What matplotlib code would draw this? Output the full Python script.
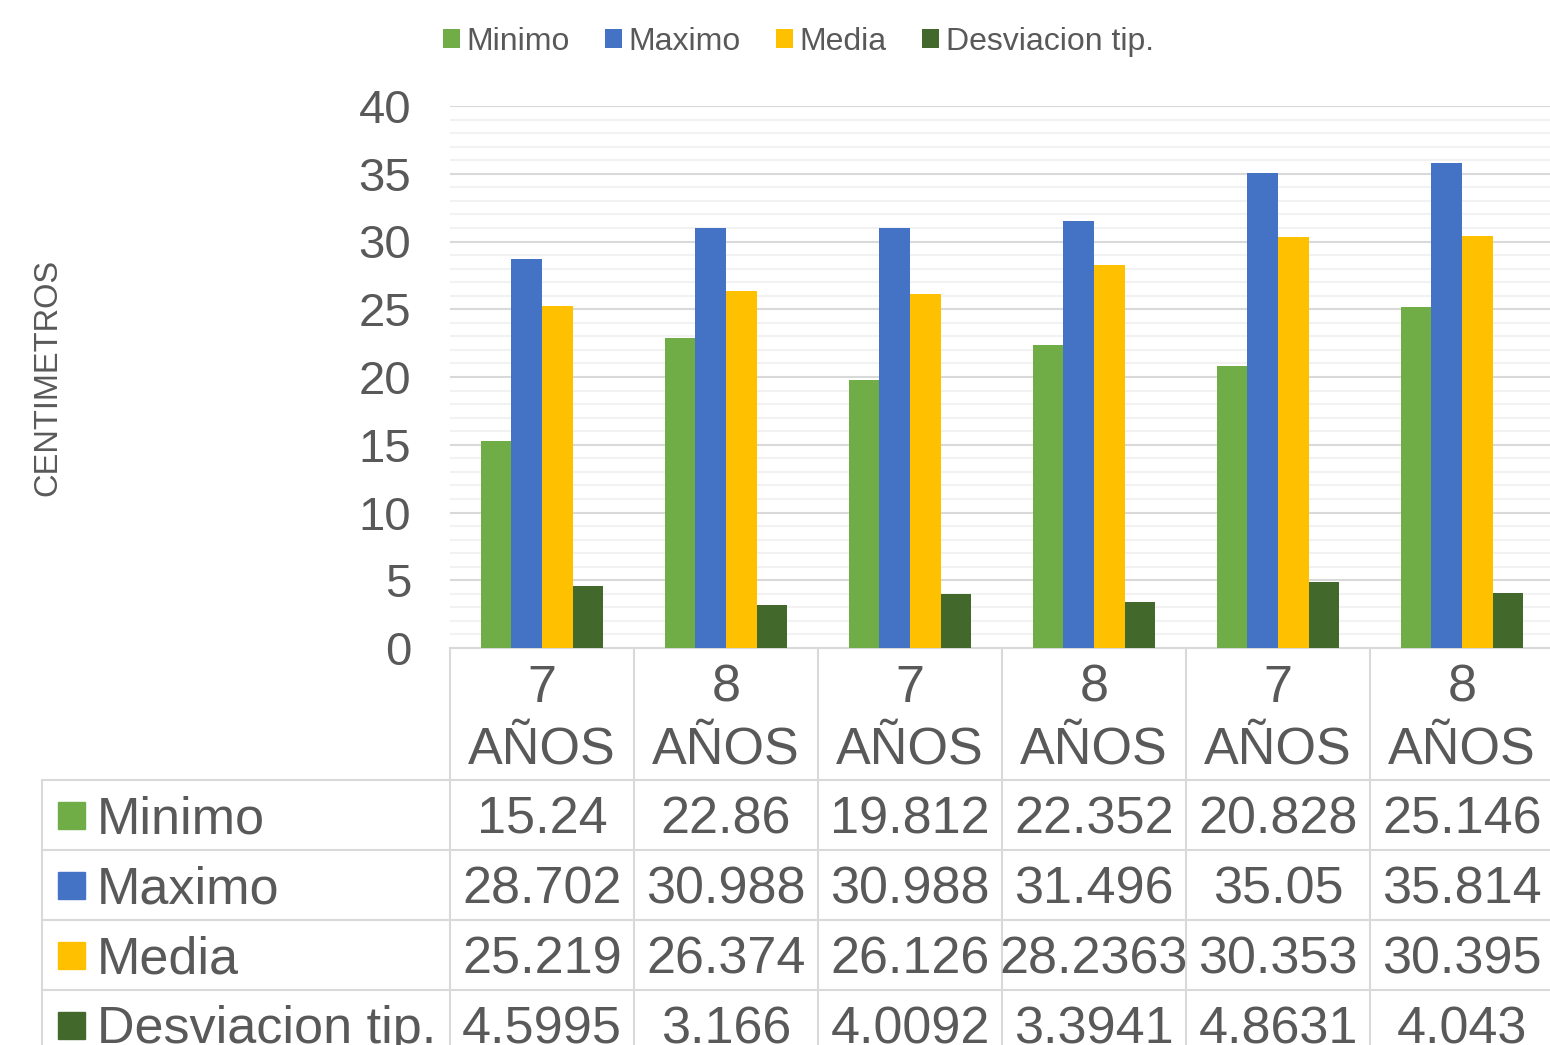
import matplotlib
matplotlib.use("Agg")
import matplotlib.pyplot as plt
import numpy as np
from matplotlib.lines import Line2D
from matplotlib.patches import Rectangle
from matplotlib.transforms import blended_transform_factory

plt.rcParams["font.family"] = ["Liberation Sans", "DejaVu Sans"]

categories = ["7\nAÑOS", "8\nAÑOS", "7\nAÑOS", "8\nAÑOS", "7\nAÑOS", "8\nAÑOS"]
series_names = ["Minimo", "Maximo", "Media", "Desviacion tip."]
minimo = [15.24, 22.86, 19.812, 22.352, 20.828, 25.146]
maximo = [28.702, 30.988, 30.988, 31.496, 35.05, 35.814]
media = [25.219, 26.374, 26.126, 28.2363, 30.353, 30.395]
desviacion = [4.5995, 3.166, 4.0092, 3.3941, 4.8631, 4.043]
y_ticks = [0, 5, 10, 15, 20, 25, 30, 35, 40]
y_label = "CENTIMETROS"

series = [minimo, maximo, media, desviacion]
colors = ["#70AD47", "#4472C4", "#FFC000", "#43682B"]
text_col = "#595959"
line_col = "#D9D9D9"

W, H = 1550, 1045
fig = plt.figure(figsize=(W / 100, H / 100), dpi=100)


def fx(px):
    return px / W


def fy(py):
    return 1 - py / H


ax = fig.add_axes([fx(450), fy(648), fx(1554) - fx(450), fy(106) - fy(648)])
x = np.arange(len(categories))
bw = 0.167
handles = []
for i, (vals, c, name) in enumerate(zip(series, colors, series_names)):
    b = ax.bar(x + (i - 1.5) * bw, vals, bw, color=c, label=name, zorder=3)
    handles.append(b)

ax.set_xlim(-0.5, len(categories) - 0.5)
ax.set_ylim(0, 40)
ax.set_yticks(y_ticks)
ax.set_yticks(np.arange(0, 41, 1), minor=True)
ax.set_xticks([])
ax.grid(axis="y", which="major", color=line_col, lw=1.5, zorder=0)
ax.grid(axis="y", which="minor", color="#F2F2F2", lw=1.5, zorder=0)
for s in ["top", "right", "left"]:
    ax.spines[s].set_visible(False)
ax.spines["bottom"].set_color(line_col)
ax.spines["bottom"].set_linewidth(1.5)
ax.tick_params(axis="y", which="both", length=0, labelsize=34, labelcolor=text_col, pad=28)

fig.text(fx(48), fy(377), y_label, rotation=90, ha="center", va="center",
         fontsize=23.5, color=text_col)

# legend across the top
fig.legend(handles=handles, labels=series_names, loc="center left",
           bbox_to_anchor=(fx(443), fy(42)), ncol=4, frameon=False,
           fontsize=23, labelcolor=text_col, borderpad=0, borderaxespad=0,
           handlelength=0.54, handleheight=0.54, handletextpad=0.2,
           columnspacing=1.1)

# data table below the axis
tr = blended_transform_factory(ax.transData, fig.transFigure)
edges = np.arange(len(categories) + 1) - 0.5
for e in edges:
    fig.add_artist(Line2D([e, e], [fy(648), fy(1060)], transform=tr,
                          color=line_col, lw=1.5, clip_on=False))
fig.add_artist(Line2D([fx(42), fx(42)], [fy(780), fy(1060)],
                      transform=fig.transFigure, color=line_col, lw=1.5))
for ry in [780, 850, 920, 990]:
    fig.add_artist(Line2D([fx(42), fx(1560)], [fy(ry), fy(ry)],
                          transform=fig.transFigure, color=line_col, lw=1.5))

fs = 37.5
for xi, cat in zip(x, categories):
    top, bottom = cat.split("\n")
    fig.text(xi, fy(702), top, transform=tr, ha="center", va="baseline",
             fontsize=fs, color=text_col)
    fig.text(xi, fy(763), bottom, transform=tr, ha="center", va="baseline",
             fontsize=fs, color=text_col)

row_base = [833, 903, 973, 1043]
row_center = [815, 885, 955, 1025]
for vals, c, name, rb, rc in zip(series, colors, series_names, row_base, row_center):
    fig.add_artist(Rectangle((fx(58), fy(rc + 13.5)), fx(85) - fx(58),
                             fy(rc - 13.5) - fy(rc + 13.5),
                             transform=fig.transFigure, color=c))
    fig.text(fx(97), fy(rb), name, ha="left", va="baseline", fontsize=fs,
             color=text_col)
    for xi, v in zip(x, vals):
        fig.text(xi, fy(rb), str(v), transform=tr, ha="center", va="baseline",
                 fontsize=fs, color=text_col)

fig.savefig("out.png", dpi=100)
